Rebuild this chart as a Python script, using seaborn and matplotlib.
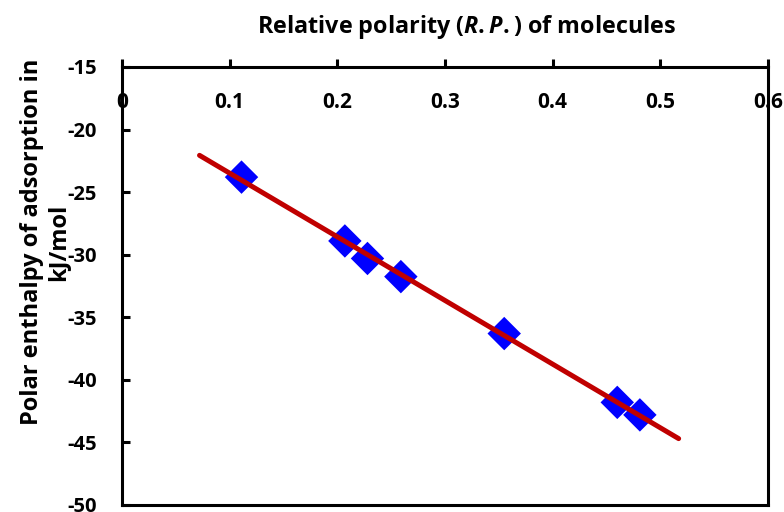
import numpy as np
import matplotlib
matplotlib.use("Agg")
import matplotlib.pyplot as plt
import seaborn as sns

# relative polarity of probe molecules and their polar enthalpy of adsorption
rel_polarity = [0.111, 0.207, 0.228, 0.259, 0.355, 0.460, 0.481]
enthalpy = [-23.8, -28.9, -30.3, -31.75, -36.3, -41.8, -42.8]
fit_range = [0.072, 0.517]
x_ticks = [0, 0.1, 0.2, 0.3, 0.4, 0.5, 0.6]
y_ticks = [-15, -20, -25, -30, -35, -40, -45, -50]

sns.set_theme(style="white")
plt.rcParams['font.family'] = ['Open Sans', 'DejaVu Sans']
plt.rcParams['axes.unicode_minus'] = False
plt.rcParams['text.color'] = 'black'
plt.rcParams['mathtext.fontset'] = 'custom'
plt.rcParams['mathtext.it'] = 'Open Sans:italic:bold'
plt.rcParams['mathtext.rm'] = 'Open Sans:bold'

fig = plt.figure(figsize=(7.84, 5.12), dpi=100)
ax = fig.add_axes([122 / 784, 1 - 505 / 512, (768 - 122) / 784, (505 - 67) / 512])

# linear trend line (Excel-style, extended both ways)
slope, intercept = np.polyfit(rel_polarity, enthalpy, 1)
fx = np.array(fit_range)
sns.lineplot(x=fx, y=slope * fx + intercept, ax=ax, color="#C00000", linewidth=3.6, zorder=3)

sns.scatterplot(x=rel_polarity, y=enthalpy, ax=ax, marker="D", s=290,
                color="#0000FF", edgecolor="none", zorder=2)

ax.set_xlim(0, 0.6)
ax.set_ylim(-50, -15)
ax.set_xticks(x_ticks)
ax.set_xticklabels([f"{t:g}" for t in x_ticks])
ax.set_yticks(y_ticks)

for s in ax.spines.values():
    s.set_color("black")
    s.set_linewidth(2.2)

ax.tick_params(axis="x", top=True, bottom=False, labeltop=True, labelbottom=False,
               direction="out", length=6, width=2.2, color="black", labelcolor="black",
               pad=-39, labelsize=15)
ax.tick_params(axis="y", left=True, direction="in", length=6, width=2.2,
               color="black", labelcolor="black", pad=18, labelsize=14.5)
for lab in ax.get_xticklabels() + ax.get_yticklabels():
    lab.set_fontweight("bold")

ax.set_xlabel("")
ax.set_ylabel("")

fig.text(467 / 784, 1 - 27 / 512, r"Relative polarity ($\mathit{R.P.}$) of molecules",
         ha="center", va="center", fontsize=16.8, fontweight="bold")
fig.text(45 / 784, 1 - 242 / 512, "Polar enthalpy of adsorption in\nkJ/mol",
         ha="center", va="center", rotation=90, fontsize=17, fontweight="bold",
         linespacing=1.15)

fig.savefig("out.png", dpi=100)
